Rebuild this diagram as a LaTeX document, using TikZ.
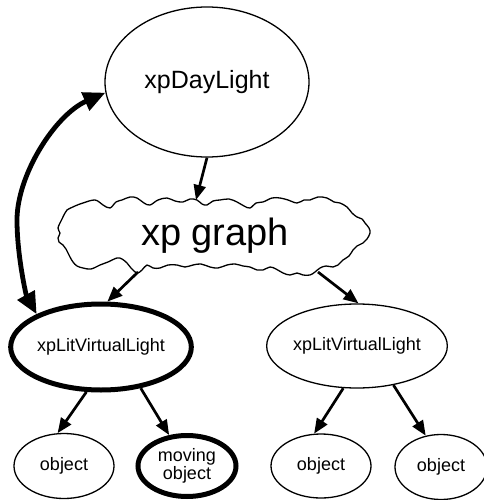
\documentclass[tikz,border=0pt]{standalone}
\usepackage{fontspec}
\setmainfont{Liberation Sans}
\usetikzlibrary{arrows.meta,shapes.geometric}
\begin{document}
\begin{tikzpicture}[x=1pt,y=-1pt,
 ell/.style={ellipse,draw,line width=1.3pt,inner sep=0pt,align=center,
   font=\fontsize{18}{18}\selectfont},
 boldell/.style={ell,line width=5pt},
 arr/.style={line width=2.7pt,-{Triangle[length=15pt,width=12pt]}},
 bigarr/.style={line width=4.8pt,{Triangle[length=22pt,width=19pt]}-{Triangle[length=22pt,width=19pt]}},
 cloudline/.style={line width=1.3pt,line join=round},
]
\useasboundingbox (0,0) rectangle (483,500);
\node[ell,minimum width=204pt,minimum height=150pt,font=\fontsize{25}{30}\selectfont] (day) at (207,82) {xpDayLight};
\node[font=\fontsize{38}{44}\selectfont,inner sep=0pt] (cloud) at (215,236) {xp graph};
\draw[cloudline] plot[smooth cycle,tension=0.6] coordinates {
 (58,228) (62,219) (65,213) (67,210) (75,206) (83,203) (95,200) (103,205) (110,208) (116,202) (122,200) (130,197) (137,198)
 (144,203) (150,205) (158,200) (167,198) (175,201) (183,202) (190,199) (197,200) (202,204) (207,205) (213,201) (220,200) (229,199) (237,202) (244,206) (250,208)
 (256,203) (263,202) (272,198) (280,198) (288,200) (297,203) (304,200) (310,200) (318,197) (327,198) (334,202) (340,203) (347,207) (352,213) (357,217)
 (362,219) (365,223) (369,228) (370,233) (367,239) (363,243) (357,246) (353,250) (349,256) (343,260) (338,265) (333,267) (326,266) (320,268) (315,272) (310,275)
 (303,275) (297,273) (290,275) (283,273) (276,269) (270,267) (263,270) (257,270) (250,267) (243,266) (235,264) (227,265) (218,268) (210,267) (201,264) (193,265)
 (185,267) (177,265) (168,265) (160,268) (153,268) (147,265) (142,270) (137,273) (131,268) (127,263) (122,259) (117,258) (108,262) (100,265) (91,269) (83,268)
 (77,266) (73,262) (70,257) (68,253) (66,249) (63,245) (59,242) (58,238) (60,233)};
\coordinate (cT) at (196,200);
\coordinate (cBL) at (138,272);
\coordinate (cBR) at (318,272);
\node[boldell,minimum width=148pt,minimum height=86pt] (lvl1) at (101,347) {xpLitVirtualLight};
\node[ell,minimum width=148pt,minimum height=84pt] (lvl2) at (357,346) {xpLitVirtualLight};
\node[ell,minimum width=100pt,minimum height=65pt] (o1) at (64,466) {object};
\node[boldell,minimum width=98pt,minimum height=61pt] (mo) at (187,466) {moving\\object};
\node[ell,minimum width=100pt,minimum height=64pt] (o3) at (321,466) {object};
\node[ell,minimum width=92pt,minimum height=65pt] (o4) at (441,467) {object};
\draw[arr] (day.south) -- (cT);
\draw[arr] (cBL) -- (lvl1.82);
\draw[arr] (cBR) -- (lvl2.88);
\draw[arr] (lvl1.-108) -- (o1.101);
\draw[arr] (lvl1.-46) -- (mo.120);
\draw[arr] (lvl2.-108) -- (o3.102);
\draw[arr] (lvl2.-47) -- (o4.116);
\draw[bigarr] (lvl1.153) .. controls (26,295) and (17,255) .. (17,220)
  .. controls (17,175) and (55,115) .. (day.186);
\end{tikzpicture}
\end{document}
